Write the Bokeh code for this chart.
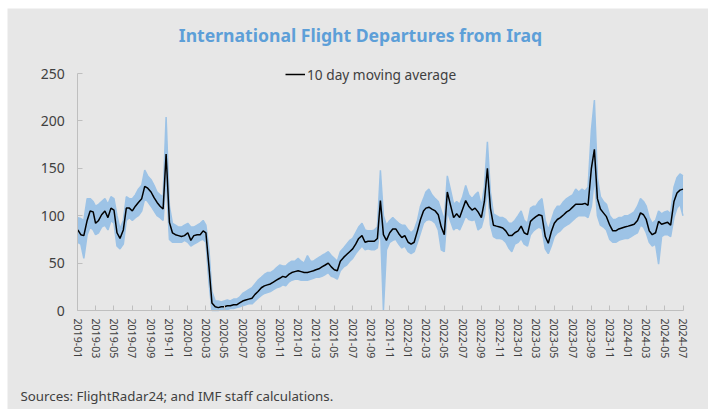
import pandas as pd
from bokeh.plotting import figure
from bokeh.models import Range1d, FixedTicker, DatetimeTickFormatter, Label
from bokeh.embed import file_html
from bokeh.resources import INLINE

title_text = "International Flight Departures from Iraq"
source_text = "Sources: FlightRadar24; and IMF staff calculations."
legend_label = "10 day moving average"

# observations every ~10 days (1st, 11th, 21st of each month), 2019-01-01 .. 2024-07-01
ma_values = [
    # 2019
    85, 80, 79, 95, 105, 104, 92, 95, 101, 105, 98, 108, 106, 82, 76, 85, 108, 108,
    105, 110, 114, 118, 131, 129, 125, 119, 114, 110, 107, 165, 93, 82, 80, 79, 78, 79,
    # 2020
    82, 74, 79, 80, 80, 84, 82, 47, 8, 4, 3, 4, 4, 5, 5, 6, 6, 8,
    10, 11, 12, 13, 17, 20, 24, 26, 27, 28, 30, 32, 34, 36, 35, 38, 40, 41,
    # 2021
    42, 41, 40, 40, 41, 42, 43, 44, 46, 48, 50, 46, 43, 42, 52, 56, 59, 62,
    65, 70, 76, 79, 72, 73, 73, 73, 76, 116, 80, 74, 82, 86, 86, 81, 77, 79,
    # 2022
    72, 70, 72, 84, 96, 105, 108, 109, 107, 105, 101, 88, 80, 125, 112, 98, 102, 98,
    107, 116, 110, 106, 108, 104, 98, 115, 150, 108, 90, 89, 88, 87, 84, 79, 79, 82,
    # 2023
    84, 89, 82, 80, 94, 97, 99, 101, 100, 78, 71, 83, 92, 96, 98, 101, 104, 106,
    109, 112, 112, 112, 113, 111, 150, 170, 118, 107, 103, 99, 90, 84, 84, 86, 87, 88,
    # 2024
    89, 90, 91, 95, 103, 101, 96, 84, 80, 82, 94, 91, 92, 93, 90, 115, 124, 127, 128,
]

daily_high = [
    # 2019
    98, 97, 95, 118, 118, 115, 110, 112, 115, 118, 112, 120, 118, 100, 86, 95, 120, 118,
    118, 122, 128, 132, 148, 142, 138, 132, 125, 122, 120, 204, 110, 92, 90, 88, 88, 90,
    # 2020
    92, 88, 88, 90, 92, 95, 90, 65, 20, 10, 10, 9, 10, 11, 10, 12, 12, 14,
    18, 20, 22, 24, 28, 32, 35, 38, 40, 40, 42, 45, 48, 47, 47, 50, 52, 52,
    # 2021
    55, 52, 50, 58, 52, 52, 54, 56, 58, 60, 62, 58, 55, 52, 62, 66, 70, 74,
    76, 82, 88, 92, 85, 84, 84, 85, 88, 148, 100, 90, 95, 98, 95, 92, 90, 90,
    # 2022
    85, 82, 85, 95, 110, 118, 125, 128, 122, 118, 115, 105, 95, 142, 128, 112, 115, 112,
    120, 132, 122, 118, 122, 125, 110, 130, 178, 125, 102, 100, 98, 98, 96, 92, 92, 95,
    # 2023
    100, 105, 95, 92, 108, 110, 110, 115, 118, 95, 85, 95, 105, 110, 110, 115, 118, 120,
    122, 128, 125, 128, 126, 130, 190, 222, 140, 120, 115, 112, 100, 96, 96, 98, 98, 100,
    # 2024
    100, 102, 104, 110, 118, 115, 110, 98, 92, 95, 105, 102, 104, 105, 102, 130, 140, 144, 142,
]

daily_low = [
    # 2019
    72, 70, 55, 80, 88, 85, 80, 82, 88, 90, 85, 95, 92, 68, 65, 70, 95, 98,
    95, 98, 100, 105, 118, 115, 110, 105, 100, 98, 95, 140, 75, 72, 72, 72, 72, 74,
    # 2020
    72, 68, 70, 72, 74, 75, 72, 30, 0, 0, 0, 1, 1, 1, 2, 2, 3, 4,
    5, 6, 7, 7, 10, 13, 16, 18, 19, 20, 22, 24, 25, 27, 26, 30, 32, 33,
    # 2021
    33, 32, 32, 32, 33, 34, 35, 35, 36, 38, 40, 36, 35, 33, 42, 46, 48, 52,
    55, 60, 64, 68, 64, 65, 64, 64, 66, 90, 0, 64, 72, 74, 75, 70, 66, 68,
    # 2022
    62, 60, 62, 72, 82, 92, 95, 96, 95, 92, 85, 64, 62, 105, 95, 85, 88, 85,
    92, 100, 96, 95, 96, 85, 88, 100, 130, 90, 78, 76, 76, 75, 72, 66, 62, 70,
    # 2023
    72, 76, 70, 68, 80, 84, 86, 88, 86, 65, 60, 68, 78, 82, 84, 88, 90, 92,
    95, 98, 100, 100, 100, 98, 110, 140, 100, 90, 88, 85, 75, 72, 72, 74, 75, 76,
    # 2024
    76, 78, 80, 82, 90, 88, 82, 72, 68, 70, 49, 78, 80, 80, 78, 98, 108, 112, 100,
]

y_ticks = [0, 50, 100, 150, 200, 250]
x_first = pd.Timestamp("2019-01-01")
x_last = pd.Timestamp("2024-07-01")

month_starts = pd.date_range("2019-01-01", "2024-06-01", freq="MS")
dates = []
for m in month_starts:
    for d in (0, 10, 20):
        dates.append(m + pd.Timedelta(days=d))
dates.append(x_last)

tick_dates = pd.date_range(x_first, x_last, freq="2MS")
tick_ms = [t.value // 10**6 for t in tick_dates]

# ---- layout (canvas pixels) ----
W, H = 701, 401
AX_L, AX_R = 70.3, 675.5      # x pixel of first / last tick
Y0, Y250 = 302.0, 65.0        # y pixel (from top) of 0 and 250
DAY_MS = 86400000.0
px_per_ms = (AX_R - AX_L) / ((x_last - x_first).value / 1e6)
px_per_unit = (Y0 - Y250) / 250.0

def px_x(px):
    return x_first.value / 1e6 + (px - AX_L) / px_per_ms

def px_y(py):
    return (Y0 - py) / px_per_unit

bg = "#e7e7e7"
txt = "#404040"
font = "Noto Sans"

p = figure(width=W, height=H, x_axis_type="datetime", output_backend="svg",
           toolbar_location=None,
           x_range=Range1d(px_x(0), px_x(W)), y_range=Range1d(px_y(H), px_y(0)),
           min_border=0, background_fill_color=bg, border_fill_color=bg,
           outline_line_color=None)
p.margin = (8, 0, 0, 7)

p.varea(x=dates, y1=daily_low, y2=daily_high, fill_color="#9dc3e6", fill_alpha=1.0)
p.line(x=dates, y=daily_high, line_color="#9dc3e6", line_width=1.5)
p.line(x=dates, y=daily_low, line_color="#9dc3e6", line_width=1.5)
p.line(x=dates, y=ma_values, line_color="black", line_width=1.5, legend_label=legend_label)

p.grid.visible = False

xa, ya = p.xaxis[0], p.yaxis[0]
xa.fixed_location = 0
ya.fixed_location = x_first.value / 1e6
xa.bounds = (x_first.value / 1e6, x_last.value / 1e6)
ya.bounds = (0, 250)
for ax in (xa, ya):
    ax.axis_line_color = "#bfbfbf"
    ax.major_tick_line_color = "#bfbfbf"
    ax.major_tick_in = 5
    ax.major_tick_out = 0
    ax.minor_tick_line_color = None
    ax.major_label_text_color = txt
    ax.major_label_text_font = font

ya.ticker = FixedTicker(ticks=y_ticks)
ya.major_label_text_font_size = "14px"
ya.major_label_standoff = 13

xa.ticker = FixedTicker(ticks=tick_ms)
xa.formatter = DatetimeTickFormatter(days="%Y-%m", months="%Y-%m", years="%Y-%m")
xa.major_label_orientation = "vertical"
xa.major_label_text_font_size = "10.6px"
xa.major_label_standoff = 8

p.add_layout(Label(x=px_x(353), y=px_y(26), text=title_text, text_align="center",
                   text_baseline="middle", text_font=font, text_font_size="17.6px",
                   text_font_style="bold", text_color="#5d9fd8"))
p.add_layout(Label(x=px_x(13), y=px_y(387), text=source_text, text_align="left",
                   text_baseline="middle", text_font=font, text_font_size="13.3px",
                   text_color=txt))

p.legend.location = (278, H - 76)
p.legend.background_fill_alpha = 0
p.legend.border_line_color = None
p.legend.label_text_font = font
p.legend.label_text_font_size = "13.7px"
p.legend.label_text_color = txt
p.legend.glyph_width = 20
p.legend.label_standoff = 2
p.legend.margin = 0
p.legend.padding = 0

open("out.html", "w").write(file_html(p, INLINE))
